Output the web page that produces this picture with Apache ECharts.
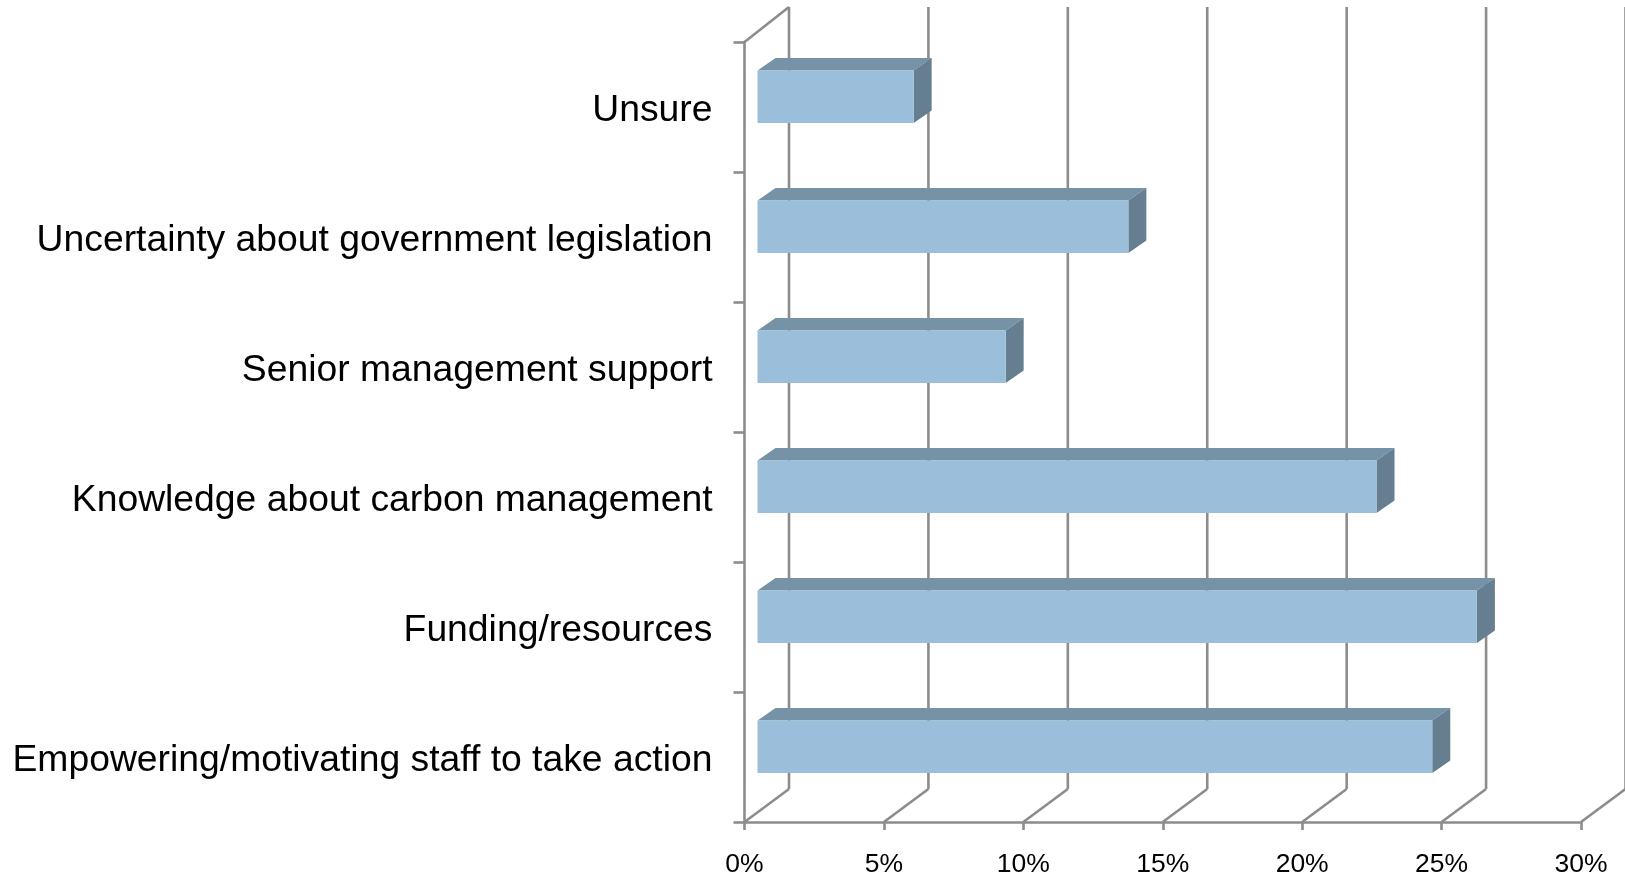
<!DOCTYPE html>
<html>
<head>
<meta charset="utf-8">
<title>Barriers to carbon management</title>
<script src="https://cdn.jsdelivr.net/npm/echarts@6/dist/echarts.min.js"></script>
<style>
    html, body { margin: 0; padding: 0; background: #fff; }
    #main { width: 1625px; height: 876px; }
</style>
</head>
<body>
<div id="main"></div>
<script>
    // listed bottom to top, the way the category axis counts
    var categories = [
      'Empowering/motivating staff to take action',
      'Funding/resources',
      'Knowledge about carbon management',
      'Senior management support',
      'Uncertainty about government legislation',
      'Unsure'
    ];
    var percentValues = [24.2, 25.8, 22.2, 8.9, 13.3, 5.6];
    var percentTicks = [0, 5, 10, 15, 20, 25, 30];

    var lineColor = '#8c8c8c';

    // 3d look: how far the back wall and the bars are pushed
    var wallDx = 44.5, wallDy = 33;
    var barDx = 18, barDy = 12.5;

    var chart = echarts.init(document.getElementById('main'));

    function lineEl(x1, y1, x2, y2) {
      return {
        type: 'line',
        shape: { x1: x1, y1: y1, x2: x2, y2: y2 },
        style: { stroke: lineColor, lineWidth: 2.6, fill: null }
      };
    }

    function polyEl(points, color) {
      return { type: 'polygon', shape: { points: points }, style: { fill: color } };
    }

    function renderWall(params, api) {
      var x = api.coord([api.value(0), 0])[0];
      var grid = params.coordSys;
      var bottom = grid.y + grid.height;
      var top = grid.y - wallDy - 2;
      var els = [
        lineEl(x, bottom, x + wallDx, bottom - wallDy),
        lineEl(x + wallDx, bottom - wallDy, x + wallDx, top)
      ];
      if (api.value(0) === 0) {
        els.push(lineEl(x, grid.y, x + wallDx, top));
      }
      return { type: 'group', children: els };
    }

    function renderBar(params, api) {
      var start = api.coord([0, api.value(1)]);
      var end = api.coord([api.value(0), api.value(1)]);
      var h = api.size([0, 1])[1] * 0.405;
      var x0 = start[0] + 13;
      var x1 = end[0] + 13;
      var y0 = start[1] - 10.3 - h / 2;
      var y1 = y0 + h;
      return {
        type: 'group',
        children: [
          polyEl([[x0, y0], [x1, y0], [x1 + barDx, y0 - barDy], [x0 + barDx, y0 - barDy]], '#7592a7'),
          polyEl([[x1, y0], [x1 + barDx, y0 - barDy], [x1 + barDx, y1 - barDy], [x1, y1]], '#657e90'),
          polyEl([[x0, y0], [x1, y0], [x1, y1], [x0, y1]], '#9bbfda')
        ]
      };
    }

    var barData = percentValues.map(function (v, i) { return [v, i]; });
    var wallData = percentTicks.map(function (v) { return [v]; });

    chart.setOption({
      animation: false,
      backgroundColor: '#fff',
      grid: { left: 744.5, top: 42, width: 836.5, height: 780, outerBoundsMode: 'none' },
      xAxis: {
        type: 'value',
        min: 0,
        max: 30,
        interval: 5,
        splitLine: { show: false },
        axisLine: { show: true, lineStyle: { color: lineColor, width: 2.6 } },
        axisTick: { show: true, length: 8, lineStyle: { color: lineColor, width: 2.6 } },
        axisLabel: {
          formatter: '{value}%',
          margin: 29,
          color: '#000',
          fontFamily: 'Liberation Sans',
          fontSize: 26.5
        }
      },
      yAxis: {
        type: 'category',
        data: categories,
        axisLine: { show: true, lineStyle: { color: lineColor, width: 2.6 } },
        axisTick: { show: true, length: 11, lineStyle: { color: lineColor, width: 2.6 } },
        axisLabel: {
          margin: 32,
          // rich token so the top padding actually pushes the text down
          formatter: function (name) { return '{cat|' + name + '}'; },
          rich: {
            cat: {
              padding: [8, 0, 0, 0],
              color: '#000',
              fontFamily: 'Liberation Sans',
              fontSize: 37.3
            }
          }
        }
      },
      series: [
        {
          type: 'custom',
          name: 'wall',
          renderItem: renderWall,
          data: wallData,
          encode: { x: 0 },
          silent: true,
          z: 1
        },
        {
          type: 'custom',
          name: 'bars',
          renderItem: renderBar,
          data: barData,
          encode: { x: 0, y: 1 },
          z: 3
        }
      ]
    });
</script>
</body>
</html>
